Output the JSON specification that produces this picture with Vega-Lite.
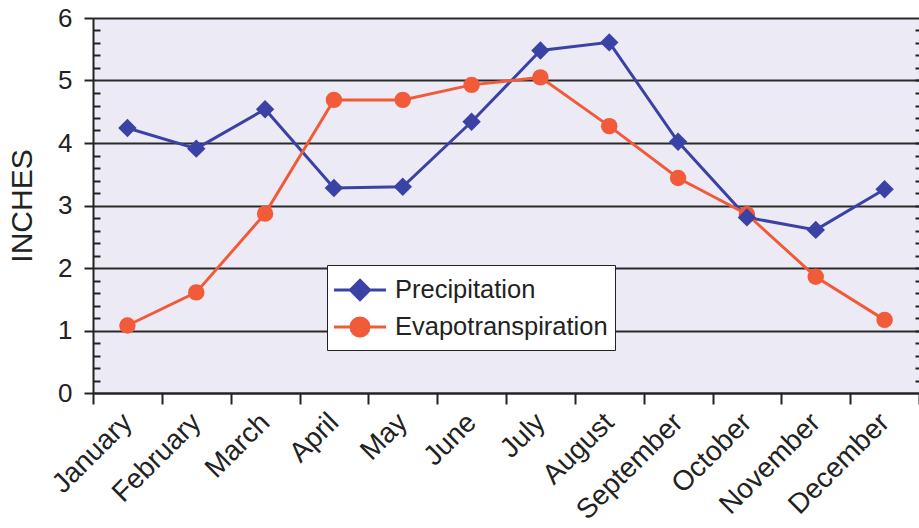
{
  "$schema": "https://vega.github.io/schema/vega-lite/v6.json",
  "width": 826,
  "height": 375,
  "autosize": {"type": "none"},
  "padding": {"left": 93, "top": 18, "right": 0, "bottom": 135},
  "background": "white",
  "config": {
    "view": {"stroke": null, "fill": "#ecebf5"},
    "font": "Liberation Sans",
    "axis": {"labelFont": "Liberation Sans", "titleFont": "Liberation Sans", "labelColor": "#222222", "titleColor": "#222222"}
  },
  "data": {
    "values": [
      {"month": "January", "series": "Precipitation", "value": 4.24},
      {"month": "February", "series": "Precipitation", "value": 3.91},
      {"month": "March", "series": "Precipitation", "value": 4.54},
      {"month": "April", "series": "Precipitation", "value": 3.28},
      {"month": "May", "series": "Precipitation", "value": 3.3},
      {"month": "June", "series": "Precipitation", "value": 4.34},
      {"month": "July", "series": "Precipitation", "value": 5.48},
      {"month": "August", "series": "Precipitation", "value": 5.61},
      {"month": "September", "series": "Precipitation", "value": 4.02},
      {"month": "October", "series": "Precipitation", "value": 2.81},
      {"month": "November", "series": "Precipitation", "value": 2.61},
      {"month": "December", "series": "Precipitation", "value": 3.26},
      {"month": "January", "series": "Evapotranspiration", "value": 1.08},
      {"month": "February", "series": "Evapotranspiration", "value": 1.61},
      {"month": "March", "series": "Evapotranspiration", "value": 2.87},
      {"month": "April", "series": "Evapotranspiration", "value": 4.69},
      {"month": "May", "series": "Evapotranspiration", "value": 4.69},
      {"month": "June", "series": "Evapotranspiration", "value": 4.93},
      {"month": "July", "series": "Evapotranspiration", "value": 5.05},
      {"month": "August", "series": "Evapotranspiration", "value": 4.27},
      {"month": "September", "series": "Evapotranspiration", "value": 3.44},
      {"month": "October", "series": "Evapotranspiration", "value": 2.86},
      {"month": "November", "series": "Evapotranspiration", "value": 1.86},
      {"month": "December", "series": "Evapotranspiration", "value": 1.17}
    ]
  },
  "encoding": {
    "x": {
      "field": "month",
      "type": "nominal",
      "sort": ["January", "February", "March", "April", "May", "June", "July", "August", "September", "October", "November", "December"],
      "scale": {"paddingInner": 0, "paddingOuter": 0},
      "axis": {
        "title": null,
        "tickBand": "extent",
        "labelAngle": -45,
        "labelAlign": "right",
        "labelBaseline": "middle",
        "labelFontSize": 28,
        "labelPadding": 14,
        "tickSize": 11,
        "tickWidth": 2,
        "tickColor": "#222222",
        "domainColor": "#222222",
        "domainWidth": 2,
        "grid": false
      }
    }
  },
  "layer": [
    {
      "mark": {"type": "line", "strokeWidth": 3},
      "encoding": {
        "y": {
          "field": "value",
          "type": "quantitative",
          "scale": {"domain": [0, 6], "nice": false},
          "axis": {
            "orient": "left",
            "values": [0, 1, 2, 3, 4, 5, 6],
            "grid": true,
            "gridColor": "#2a2a2a",
            "gridWidth": 2,
            "domainColor": "#222222",
            "domainWidth": 2,
            "tickColor": "#222222",
            "tickWidth": 2,
            "tickSize": 9,
            "labelFontSize": 26,
            "labelPadding": 12,
            "title": "INCHES",
            "titleFontSize": 30,
            "titleFontWeight": "normal",
            "titlePadding": 20
          }
        },
        "color": {
          "field": "series",
          "type": "nominal",
          "scale": {"domain": ["Precipitation", "Evapotranspiration"], "range": ["#3b42a6", "#f15b3a"]},
          "legend": {
            "orient": "none",
            "legendX": 234,
            "legendY": 247,
            "title": null,
            "padding": 7,
            "fillColor": "white",
            "strokeColor": "#222222",
            "labelFontSize": 25.5,
            "labelColor": "#222222",
            "labelFont": "Liberation Sans",
            "labelLimit": 400,
            "symbolSize": 1089,
            "symbolStrokeWidth": 3,
            "symbolOffset": 8,
            "labelOffset": 17,
            "rowPadding": 3,
            "encode": {
              "symbols": {
                "update": {
                  "shape": {"signal": "datum.value === 'Precipitation' ? 'M-1.58,0L1.58,0M0,-0.58L0.58,0L0,0.58L-0.58,0Z' : 'M-1.58,0L1.58,0M0.55,0C0.55,0.303,0.303,0.55,0,0.55C-0.303,0.55,-0.55,0.303,-0.55,0C-0.55,-0.303,-0.303,-0.55,0,-0.55C0.303,-0.55,0.55,-0.303,0.55,0Z'"},
                  "fill": {"scale": "color", "field": "value"},
                  "stroke": {"scale": "color", "field": "value"},
                  "strokeWidth": {"value": 3},
                  "strokeOpacity": {"value": 1},
                  "fillOpacity": {"value": 1},
                  "opacity": {"value": 1}
                }
              }
            }
          }
        }
      }
    },
    {
      "transform": [{"filter": "datum.series === 'Evapotranspiration'"}],
      "mark": {"type": "point", "filled": true, "opacity": 1, "shape": "circle", "size": 270},
      "encoding": {
        "y": {
          "field": "value",
          "type": "quantitative",
          "scale": {"domain": [0, 6], "nice": false},
          "axis": {
            "orient": "left",
            "values": [0.2, 0.4, 0.6, 0.8, 1.2, 1.4, 1.6, 1.8, 2.2, 2.4, 2.6, 2.8, 3.2, 3.4, 3.6, 3.8, 4.2, 4.4, 4.6, 4.8, 5.2, 5.4, 5.6, 5.8],
            "grid": false,
            "domain": false,
            "labels": false,
            "title": null,
            "tickColor": "#222222",
            "tickWidth": 2,
            "tickSize": -7
          }
        },
        "color": {"field": "series", "type": "nominal", "legend": null}
      }
    },
    {
      "transform": [{"filter": "datum.series === 'Precipitation'"}],
      "mark": {"type": "point", "filled": true, "opacity": 1, "shape": "diamond", "size": 340},
      "encoding": {
        "y": {
          "field": "value",
          "type": "quantitative",
          "scale": {"domain": [0, 6], "nice": false},
          "axis": {
            "orient": "right",
            "values": [0.2, 0.4, 0.6, 0.8, 1, 1.2, 1.4, 1.6, 1.8, 2, 2.2, 2.4, 2.6, 2.8, 3, 3.2, 3.4, 3.6, 3.8, 4, 4.2, 4.4, 4.6, 4.8, 5, 5.2, 5.4, 5.6, 5.8],
            "grid": false,
            "domain": false,
            "labels": false,
            "title": null,
            "tickColor": "#222222",
            "tickWidth": 2,
            "tickSize": -4
          }
        },
        "color": {"field": "series", "type": "nominal", "legend": null}
      }
    }
  ],
  "resolve": {"axis": {"y": "independent"}}
}
